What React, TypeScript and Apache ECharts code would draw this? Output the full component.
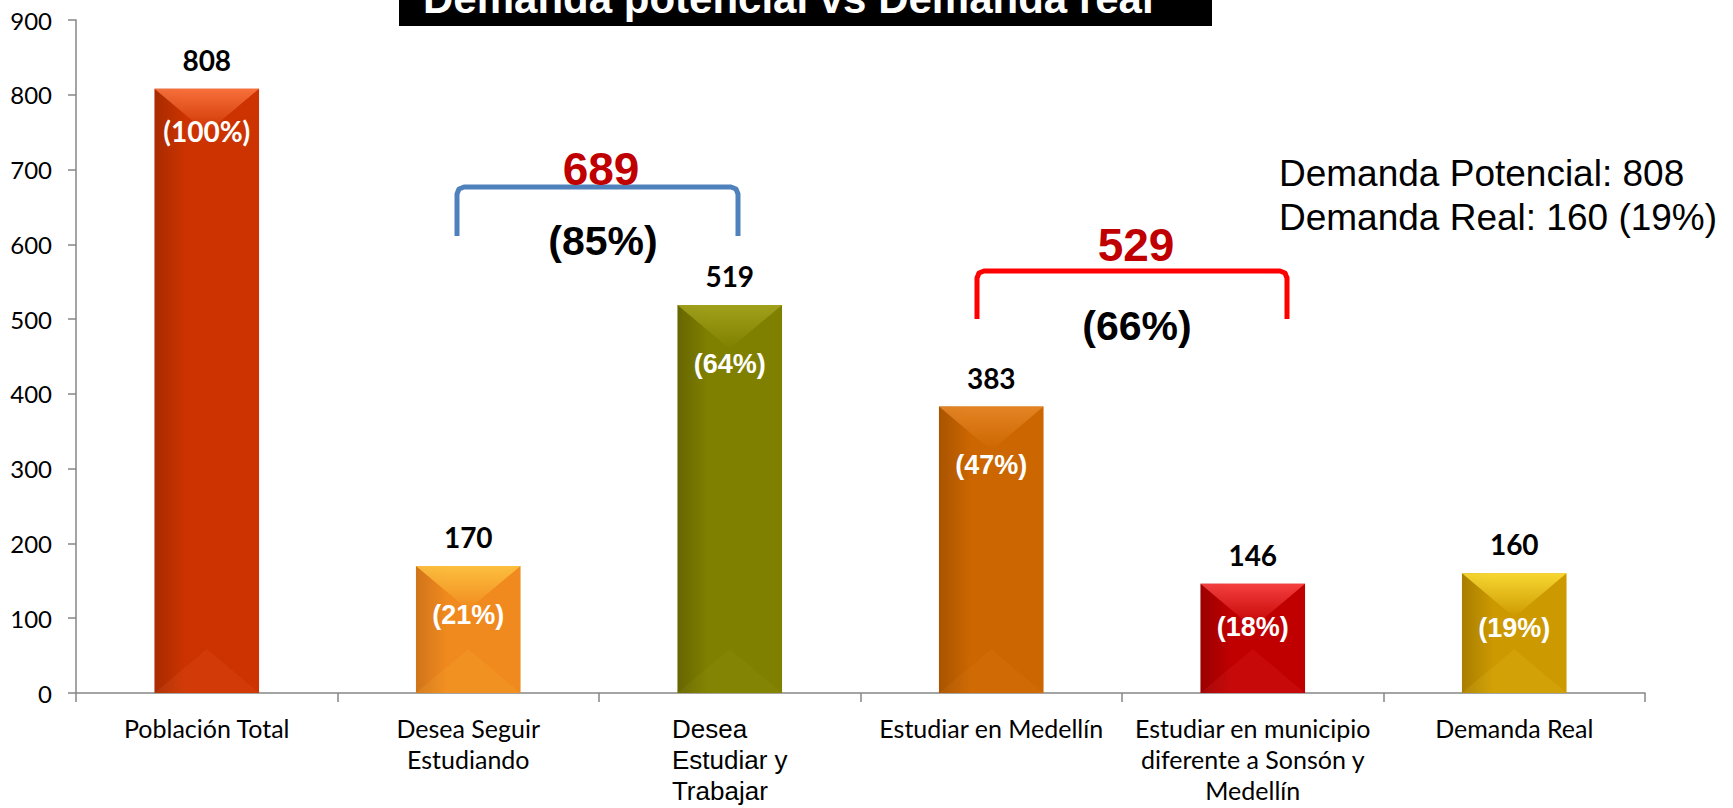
import React, { useEffect, useRef } from "react";
import * as echarts from "echarts";

// ---- Data ----
const categories = [
  "Población Total",
  "Desea Seguir\nEstudiando",
  "Desea\nEstudiar y\nTrabajar",
  "Estudiar en Medellín",
  "Estudiar en municipio\ndiferente a Sonsón y\nMedellín",
  "Demanda Real",
];
const values = [808, 170, 519, 383, 146, 160];
const percentLabels = ["(100%)", "(21%)", "(64%)", "(47%)", "(18%)", "(19%)"];
const yMin = 0;
const yMax = 900;
const yInterval = 100;
const titleText = "Demanda potencial vs Demanda real";
const bracketTotals = ["689", "529"];
const bracketPercents = ["(85%)", "(66%)"];
const summaryLines = ["Demanda Potencial: 808", "Demanda Real: 160 (19%)"];

// ---- Styles ----
const barColors = [
  { dark: "#A82B00", base: "#CC3300", light: "#FF7A45" },
  { dark: "#D0741A", base: "#F08A1E", light: "#FFC844" },
  { dark: "#666600", base: "#808000", light: "#A6A620" },
  { dark: "#A85400", base: "#CC6600", light: "#E8892A" },
  { dark: "#9A0000", base: "#C00000", light: "#FF4A4A" },
  { dark: "#A87E00", base: "#CC9900", light: "#FFE23A" },
];
const pctDepth = [42, 49, 59, 58, 43, 55];
const CALIBRI = "Lato, 'Open Sans', sans-serif";
const ARIAL = "'Liberation Sans', Arial, Helvetica, sans-serif";

export default function App() {
  const ref = useRef<HTMLDivElement>(null);

  useEffect(() => {
    if (!ref.current) return;
    const chart = echarts.init(ref.current, undefined, { renderer: "svg" });

    const option: any = {
      animation: false,
      backgroundColor: "#ffffff",
      grid: { left: 76, right: 88, top: 20, bottom: 115, containLabel: false },
      xAxis: {
        type: "category",
        data: categories,
        axisLine: { show: true, lineStyle: { color: "#868686", width: 1.5 } },
        axisTick: { show: true, length: 9, lineStyle: { color: "#868686", width: 1.5 } },
        splitLine: { show: false },
        axisLabel: {
          interval: 0,
          margin: 19,
          color: "#000",
          fontFamily: CALIBRI,
          fontSize: 25,
          lineHeight: 31,
          formatter: (val: string, idx: number) => (idx === 2 ? `{a|${val}}` : val),
          rich: {
            a: { fontFamily: ARIAL, fontSize: 26, lineHeight: 31, color: "#000", align: "left", padding: [3, 0, 0, 0] },
          },
        },
      },
      yAxis: {
        type: "value",
        min: yMin,
        max: yMax,
        interval: yInterval,
        axisLine: { show: true, lineStyle: { color: "#868686", width: 1.5 } },
        axisTick: { show: true, length: 8, lineStyle: { color: "#868686", width: 1.5 } },
        splitLine: { show: false },
        axisLabel: { color: "#000", fontFamily: CALIBRI, fontSize: 24, margin: 24 },
      },
      series: [
        {
          type: "bar",
          data: values,
          barWidth: "40%",
          z: 2,
          itemStyle: {
            color: (p: any) => {
              const c = barColors[p.dataIndex];
              return new echarts.graphic.LinearGradient(0, 0, 1, 0, [
                { offset: 0, color: c.dark },
                { offset: 0.3, color: c.base },
                { offset: 1, color: c.base },
              ]);
            },
          },
          label: {
            show: true,
            position: "top",
            distance: 15,
            color: "#000",
            fontFamily: CALIBRI,
            fontWeight: "bold",
            fontSize: 28,
          },
        },
        {
          type: "custom",
          z: 3,
          data: values.map((v, i) => [i, v]),
          encode: { x: 0, y: 1 },
          renderItem: (params: any, api: any) => {
            const i = params.dataIndex;
            const xv = api.value(0);
            const yv = api.value(1);
            const pTop = api.coord([xv, yv]);
            const pBot = api.coord([xv, 0]);
            const w = api.size([1, 0])[0] * 0.4;
            const cx = pTop[0];
            const x0 = cx - w / 2;
            const x1 = cx + w / 2;
            const yt = pTop[1];
            const yb = pBot[1];
            const d = Math.min(w * 0.42, (yb - yt) / 2);
            const c = barColors[i];
            return {
              type: "group",
              children: [
                {
                  type: "polygon",
                  shape: { points: [[x0, yt], [x1, yt], [cx, yt + d]] },
                  style: {
                    fill: new echarts.graphic.LinearGradient(0, 0, 0, 1, [
                      { offset: 0, color: c.light },
                      { offset: 1, color: c.base },
                    ]),
                    opacity: 0.85,
                  },
                },
                {
                  type: "polygon",
                  shape: { points: [[x0, yb], [x1, yb], [cx, yb - d]] },
                  style: { fill: c.light, opacity: 0.12 },
                },
                {
                  type: "text",
                  x: cx,
                  y: yt + pctDepth[i],
                  style: {
                    text: percentLabels[i],
                    fill: "#ffffff",
                    font: i === 0 ? `bold 28px ${CALIBRI}` : `bold 27px ${ARIAL}`,
                    align: "center",
                    verticalAlign: "middle",
                  },
                },
              ],
            };
          },
        },
      ],
      graphic: [
        { type: "rect", shape: { x: 399, y: 0, width: 813, height: 26 }, style: { fill: "#000" }, z: 10 },
        {
          type: "text",
          x: 423,
          y: -2,
          z: 11,
          style: {
            text: titleText,
            fill: "#fff",
            fontFamily: ARIAL,
            fontWeight: "bold",
            fontSize: 42,
            align: "left",
            verticalAlign: "middle",
          },
        },
        {
          type: "polyline",
          z: 10,
          shape: {
            points: [[457, 236], [457, 194], [459, 189], [464, 187], [731, 187], [736, 189], [738, 194], [738, 236]],
          },
          style: { stroke: "#4F81BD", lineWidth: 5, fill: "none", lineJoin: "round" },
        },
        {
          type: "polyline",
          z: 10,
          shape: {
            points: [[977, 319], [977, 278], [979, 273], [984, 271], [1280, 271], [1285, 273], [1287, 278], [1287, 319]],
          },
          style: { stroke: "#FF0000", lineWidth: 5, fill: "none", lineJoin: "round" },
        },
        {
          type: "text", x: 601, y: 169, z: 11,
          style: { text: bracketTotals[0], fill: "#C00000", fontFamily: ARIAL, fontWeight: "bold", fontSize: 46, align: "center", verticalAlign: "middle" },
        },
        {
          type: "text", x: 603, y: 241, z: 11,
          style: { text: bracketPercents[0], fill: "#000", fontFamily: ARIAL, fontWeight: "bold", fontSize: 41, align: "center", verticalAlign: "middle" },
        },
        {
          type: "text", x: 1136, y: 245, z: 11,
          style: { text: bracketTotals[1], fill: "#C00000", fontFamily: ARIAL, fontWeight: "bold", fontSize: 46, align: "center", verticalAlign: "middle" },
        },
        {
          type: "text", x: 1137, y: 326, z: 11,
          style: { text: bracketPercents[1], fill: "#000", fontFamily: ARIAL, fontWeight: "bold", fontSize: 41, align: "center", verticalAlign: "middle" },
        },
        {
          type: "text", x: 1279, y: 173, z: 11,
          style: { text: summaryLines[0], fill: "#000", fontFamily: ARIAL, fontSize: 37, align: "left", verticalAlign: "middle" },
        },
        {
          type: "text", x: 1279, y: 217, z: 11,
          style: { text: summaryLines[1], fill: "#000", fontFamily: ARIAL, fontSize: 37, align: "left", verticalAlign: "middle" },
        },
      ],
    };

    chart.setOption(option);
    return () => chart.dispose();
  }, []);

  return (
    <div
      ref={ref}
      style={{ position: "fixed", left: 0, top: 0, width: 1733, height: 808, background: "#fff" }}
    />
  );
}
